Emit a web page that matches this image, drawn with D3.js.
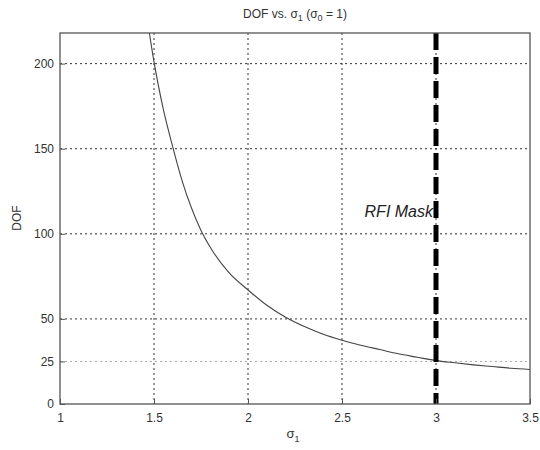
<!DOCTYPE html>
<html><head><meta charset="utf-8">
<script src="https://cdn.jsdelivr.net/npm/d3@7"></script>
<style>body{margin:0;background:#fff;} text{font-family:"Liberation Sans",Arial,sans-serif;fill:#333;}</style>
</head><body><svg id="c" width="540" height="450"></svg>
<script>
const sigma1 = [1.47,1.50,1.55,1.60,1.65,1.70,1.75,1.80,1.90,2.00,2.10,2.20,2.30,2.40,2.50,2.60,2.70,2.80,2.90,3.00,3.10,3.20,3.30,3.40,3.50];
const dof    = [222,201,173,151,131,115,102,92,77,67,58,51,45.5,41,37.5,34.5,32,29.5,27.5,25.5,24.2,23,22,21,20.3];
const xTicks = [1,1.5,2,2.5,3,3.5];
const yTicks = [0,25,50,100,150,200];
const maskX = 3;
const maskLabel = "RFI Mask";

const svg = d3.select("#c");
const m = {l:60, r:530, t:33, b:404};
const x = d3.scaleLinear().domain([1,3.5]).range([m.l,m.r]);
const y = d3.scaleLinear().domain([0,218]).range([m.b,m.t]);

// grid
const g = svg.append("g");
g.selectAll("line.gx").data(xTicks.filter(d=>d>1&&d<3.5)).join("line")
  .attr("x1",d=>x(d)).attr("x2",d=>x(d)).attr("y1",m.t).attr("y2",m.b)
  .attr("stroke","#333").attr("stroke-width",1).attr("stroke-dasharray","2,3");
g.selectAll("line.gy").data(yTicks.filter(d=>d>0)).join("line")
  .attr("x1",m.l).attr("x2",m.r).attr("y1",d=>y(d)).attr("y2",d=>y(d))
  .attr("stroke",d=>d===25?"#aaa":"#333").attr("stroke-width",1).attr("stroke-dasharray","2,3");

// clip
svg.append("clipPath").attr("id","pc").append("rect")
  .attr("x",m.l).attr("y",m.t).attr("width",m.r-m.l).attr("height",m.b-m.t);

const line = d3.line().x((d,i)=>x(sigma1[i])).y(d=>y(d)).curve(d3.curveMonotoneX);
svg.append("path").datum(dof).attr("d",line).attr("fill","none")
  .attr("stroke","#444").attr("stroke-width",1.1).attr("clip-path","url(#pc)");

// mask line
svg.append("line").attr("x1",x(maskX)).attr("x2",x(maskX)).attr("y1",m.t).attr("y2",m.b)
  .attr("stroke","#000").attr("stroke-width",5).attr("stroke-dasharray","17,7");
svg.append("text").attr("x",x(maskX)-3).attr("y",217).attr("text-anchor","end")
  .attr("font-size",16).attr("font-style","italic").style("fill","#222").text(maskLabel);

// axes box
svg.append("rect").attr("x",m.l).attr("y",m.t).attr("width",m.r-m.l).attr("height",m.b-m.t)
  .attr("fill","none").attr("stroke","#555").attr("stroke-width",1.3);

const xa = svg.append("g").attr("transform",`translate(0,${m.b})`)
  .call(d3.axisBottom(x).tickValues(xTicks).tickSize(-5).tickPadding(9).tickFormat(d3.format("")));
const ya = svg.append("g").attr("transform",`translate(${m.l},0)`)
  .call(d3.axisLeft(y).tickValues(yTicks).tickSize(-5).tickPadding(6));
[xa,ya].forEach(a=>{
  a.select(".domain").remove();
  a.selectAll(".tick line").attr("stroke","#555");
  a.selectAll(".tick text").attr("font-size",12).attr("font-family","Liberation Sans, Arial").style("fill","#333");
});

// title
const t = svg.append("text").attr("x",295).attr("y",18).attr("text-anchor","middle").attr("font-size",12);
t.append("tspan").text("DOF vs. σ");
t.append("tspan").attr("dy",3).attr("font-size",9).text("1");
t.append("tspan").attr("dy",-3).text(" (σ");
t.append("tspan").attr("dy",3).attr("font-size",9).text("0");
t.append("tspan").attr("dy",-3).text(" = 1)");

// x label
const xl = svg.append("text").attr("x",293).attr("y",438).attr("text-anchor","middle").attr("font-size",13);
xl.append("tspan").text("σ");
xl.append("tspan").attr("dy",4).attr("font-size",9).text("1");

// y label
svg.append("text").attr("transform","translate(21,218) rotate(-90)").attr("text-anchor","middle")
  .attr("font-size",12).text("DOF");
</script></body></html>
